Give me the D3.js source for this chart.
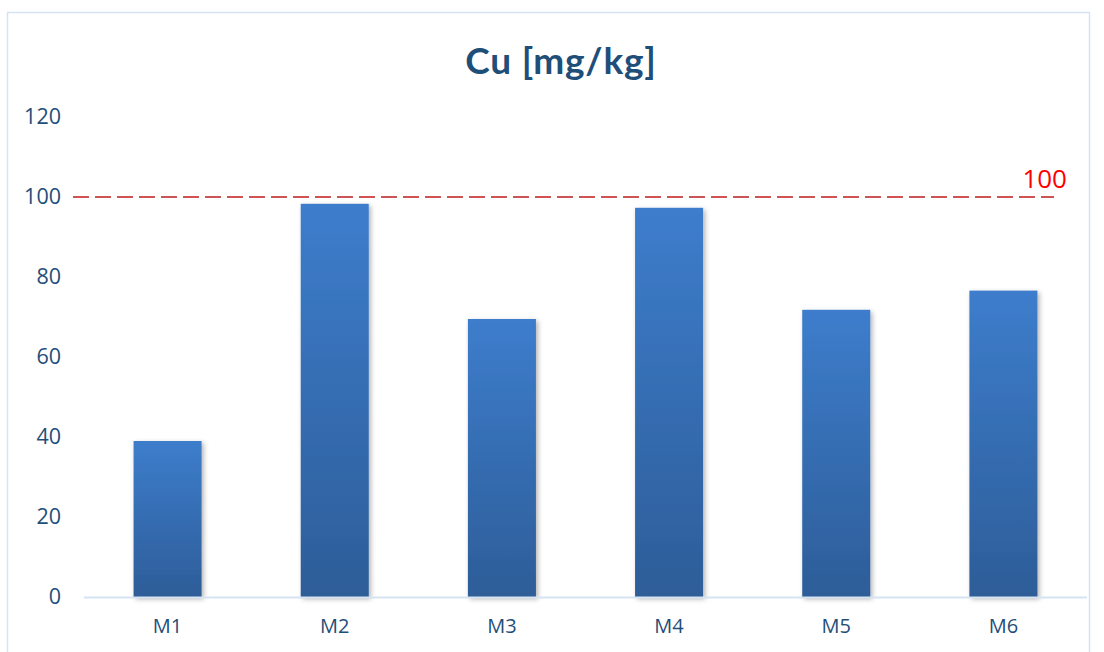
<!DOCTYPE html>
<html><head><meta charset="utf-8">
<script src="https://cdn.jsdelivr.net/npm/d3@7"></script>
<style>html,body{margin:0;padding:0;background:#fff;}</style>
</head><body>
<script>
const categories = ["M1","M2","M3","M4","M5","M6"];
const values = [39, 98.3, 69.5, 97.3, 71.8, 76.6];
const yTicks = [0,20,40,60,80,100,120];
const refValue = 100;
const refLabel = "100";
const title = "Cu [mg/kg]";

const W = 1104, H = 652;
const svg = d3.select("body").append("svg").attr("width", W).attr("height", H);
const defs = svg.append("defs");
const grad = defs.append("linearGradient").attr("id","barGrad").attr("x1",0).attr("y1",0).attr("x2",0).attr("y2",1);
grad.append("stop").attr("offset","0%").attr("stop-color","#3D7DCC");
grad.append("stop").attr("offset","100%").attr("stop-color","#2D5D98");
const f = defs.append("filter").attr("id","shadow").attr("x","-20%").attr("y","-20%").attr("width","150%").attr("height","150%");
f.append("feDropShadow").attr("dx",2).attr("dy",2).attr("stdDeviation",2.5).attr("flood-color","#000").attr("flood-opacity",0.3);

// outer border
svg.append("rect").attr("x",7.5).attr("y",12.5).attr("width",1082).attr("height",700)
  .attr("fill","none").attr("stroke","#D5E3F2").attr("stroke-width",1.5);

const x = d3.scaleBand().domain(categories).range([84,1087]).paddingInner(0.593).paddingOuter(0.2965);
const y = d3.scaleLinear().domain([0,120]).range([597,117]);

// title
svg.append("text").attr("x",561).attr("y",74).attr("text-anchor","middle")
  .attr("font-family","Lato, 'Open Sans', sans-serif").attr("font-weight","bold").attr("font-size",37)
  .attr("letter-spacing",0.8)
  .attr("fill","#1F4E79").text(title);

// bars
svg.append("g").selectAll("rect").data(values).join("rect")
  .attr("x",(d,i)=>x(categories[i])).attr("width",x.bandwidth())
  .attr("y",d=>y(d)).attr("height",d=>y(0)-y(d))
  .attr("fill","url(#barGrad)").attr("filter","url(#shadow)");

// x axis line
svg.append("line").attr("x1",84).attr("x2",1087).attr("y1",y(0)+0.5).attr("y2",y(0)+0.5)
  .attr("stroke","#D5E3F2").attr("stroke-width",2);

// y axis
const yAxis = svg.append("g").attr("transform","translate(61,0)")
  .call(d3.axisLeft(y).tickValues(yTicks).tickSize(0).tickPadding(0));
yAxis.select(".domain").remove();
yAxis.selectAll("text").attr("font-family","'Open Sans', Lato, sans-serif").attr("font-size",21.5)
  .attr("fill","#1F4E79");

// x axis labels
const xAxis = svg.append("g").attr("transform",`translate(0,${y(0)})`)
  .call(d3.axisBottom(x).tickSize(0).tickPadding(22));
xAxis.select(".domain").remove();
xAxis.selectAll("text").attr("font-family","'Open Sans', Lato, sans-serif").attr("font-size",20)
  .attr("fill","#1F4E79");

// reference line
svg.append("line").attr("x1",73).attr("x2",1054).attr("y1",y(refValue)).attr("y2",y(refValue))
  .attr("stroke","#CD5452").attr("stroke-width",2).attr("stroke-dasharray","16,6");
svg.append("text").attr("x",1067).attr("y",y(refValue)-9).attr("text-anchor","end")
  .attr("font-family","'Open Sans', Lato, sans-serif").attr("font-size",26).attr("fill","#FF0000").text(refLabel);
</script>
</body></html>
